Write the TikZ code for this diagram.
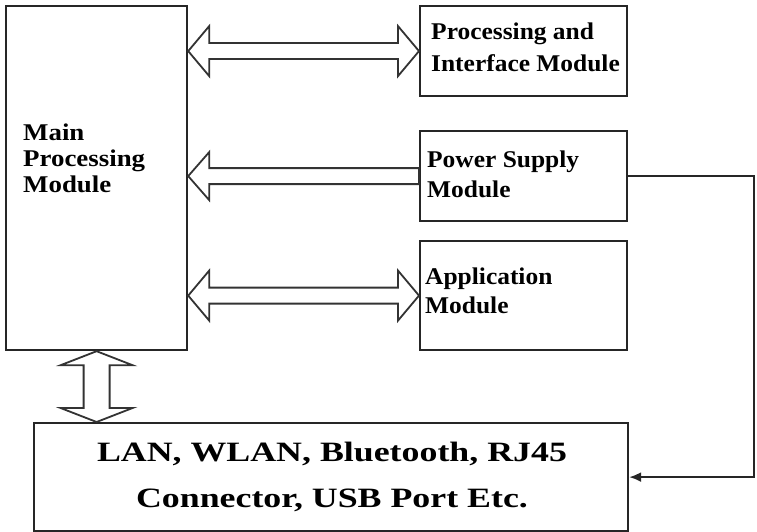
\documentclass[tikz,border=0pt]{standalone}
\usepackage{fontspec}
\setmainfont{Liberation Serif}
\newfontfamily\mainfam{Liberation Serif}[FakeStretch=1.12]
\newfontfamily\sidefam{Liberation Serif}[FakeStretch=1.06]
\newfontfamily\bigfam{Liberation Serif}[FakeStretch=1.28]
\usetikzlibrary{arrows.meta,calc}
\newcommand\hdoublearrow[2]{%
  \path[fat] (#1) -- ++(21,-25) -- ++(0,17) -- ($(#2)+(-21,-8)$) -- ++(0,-17) -- (#2)
    -- ++(-21,25) -- ++(0,-17) -- ($(#1)+(21,8)$) -- ++(0,17) -- cycle;}
\begin{document}
\begin{tikzpicture}[x=1pt,y=-1pt,
  box/.style={draw=black!85, line width=2.2pt, inner sep=0pt, anchor=north west},
  fat/.style={draw=black!80, line width=1.8pt, fill=white, line join=miter},
  lbl/.style={inner sep=0pt, align=left, anchor=base west, text=black},
  ctr/.style={inner sep=0pt, anchor=base, text=black, font=\bigfam\bfseries\fontsize{28}{46}\selectfont},
  wire/.style={draw=black!85, line width=1.8pt, -{Latex[length=12pt,width=10pt]}}]
\useasboundingbox (0,0) rectangle (757,532);
% boxes
\node[box, minimum width=181pt, minimum height=344pt] (main) at (5,5) {};
\node[box, minimum width=207pt, minimum height=90pt] (pim) at (419,5) {};
\node[box, minimum width=207pt, minimum height=90pt] (psm) at (419,130) {};
\node[box, minimum width=207pt, minimum height=109pt] (app) at (419,240) {};
\node[box, minimum width=594pt, minimum height=108pt] (conn) at (33,422) {};
% texts (base anchor = baseline of the last line)
\node[lbl, font=\mainfam\bfseries\fontsize{24}{26}\selectfont] (tmain) at (23,192) {Main\\Processing\\Module};
\node[lbl, font=\sidefam\bfseries\fontsize{24}{32}\selectfont] (tpim) at (431,72) {Processing and\\Interface Module};
\node[lbl, font=\sidefam\bfseries\fontsize{24}{30}\selectfont] (tpsm) at (427,197) {Power Supply\\Module};
\node[lbl, font=\sidefam\bfseries\fontsize{24}{29}\selectfont] (tapp) at (425,313) {Application\\Module};
\node[ctr] (tconn1) at (332,461) {LAN, WLAN, Bluetooth, RJ45};
\node[ctr] (tconn2) at (332,507) {Connector, USB Port Etc.};
% tips
\coordinate (a1) at (main.east |- pim.west);
\coordinate (a2) at (main.east |- psm.west);
\coordinate (a3) at (main.east |- app.west);
\coordinate (v1) at (main.south);
\coordinate (v2) at (conn.north -| main.south);
% double arrows
\hdoublearrow{a1}{pim.west}
\hdoublearrow{a3}{app.west}
% single arrow from power supply
\path[fat] (a2) -- ++(21,-24) -- ++(0,16) -- ($(psm.west)+(0,-8)$) -- ++(0,16)
  -- ($(a2)+(21,8)$) -- ++(0,16) -- cycle;
% vertical double arrow
\path[fat] (v1) -- ++(36,14) -- ++(-23,0) -- ($(v2)+(13,-14)$) -- ++(23,0) -- (v2)
  -- ++(-36,-14) -- ++(23,0) -- ($(v1)+(-13,14)$) -- ++(-23,0) -- cycle;
% wire
\coordinate (rt) at (754,0);
\draw[wire] (psm.east) -- (psm.east -| rt) |- (conn.east);
\end{tikzpicture}
\end{document}
